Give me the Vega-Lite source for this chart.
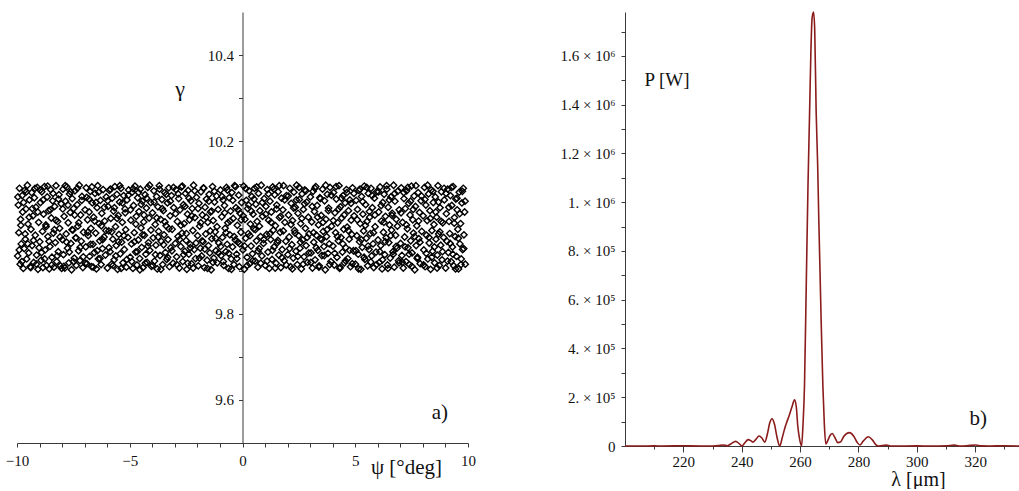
{
  "$schema": "https://vega.github.io/schema/vega-lite/v6.json",
  "background": "white",
  "padding": {"left": 5, "top": 8, "right": 0, "bottom": 0},
  "bounds": "flush",
  "spacing": 157,
  "config": {
    "view": {"stroke": null},
    "font": "Liberation Serif",
    "axis": {
      "grid": false,
      "domainColor": "#3a3a3a",
      "tickColor": "#3a3a3a",
      "labelColor": "#111111",
      "labelFont": "Liberation Serif",
      "labelFontSize": 15,
      "titleFont": "Liberation Serif",
      "titleFontWeight": "normal",
      "titleColor": "#111111",
      "labelOverlap": false,
      "labelFlush": false,
      "tickSize": 4
    }
  },
  "hconcat": [
    {
      "width": 451,
      "height": 431,
      "title": {"text": "a)", "orient": "top", "anchor": "end", "frame": "group", "offset": 0, "dx": -20, "dy": 422, "font": "Liberation Serif", "fontSize": 21, "fontWeight": "normal", "color": "#111111", "baseline": "middle", "align": "right"},
      "data": {"values": [
{"p":-9.97,"g":9.934},{"p":-9.94,"g":10.052},{"p":-9.92,"g":9.988},{"p":-9.89,"g":10.091},{"p":-9.86,"g":9.915},{"p":-9.84,"g":10.019},{"p":-9.81,"g":9.962},{"p":-9.77,"g":10.074},{"p":-9.75,"g":10.036},{"p":-9.72,"g":9.905},{"p":-9.68,"g":9.951},{"p":-9.66,"g":10.086},{"p":-9.63,"g":9.973},{"p":-9.6,"g":10.043},{"p":-9.57,"g":9.927},{"p":-9.54,"g":10.098},{"p":-9.51,"g":10.008},{"p":-9.48,"g":9.941},{"p":-9.45,"g":10.064},{"p":-9.42,"g":9.909},{"p":-9.38,"g":9.996},{"p":-9.35,"g":10.081},{"p":-9.33,"g":9.958},{"p":-9.29,"g":10.027},{"p":-9.26,"g":9.919},{"p":-9.23,"g":10.069},{"p":-9.19,"g":9.982},{"p":-9.16,"g":10.047},{"p":-9.13,"g":9.936},{"p":-9.1,"g":10.093},{"p":-9.07,"g":9.903},{"p":-9.04,"g":10.012},
{"p":-8.99,"g":9.967},{"p":-8.96,"g":10.058},{"p":-8.93,"g":9.924},{"p":-8.9,"g":10.083},{"p":-8.87,"g":9.991},{"p":-8.85,"g":9.907},{"p":-8.82,"g":10.031},{"p":-8.78,"g":10.095},{"p":-8.75,"g":9.948},{"p":-8.72,"g":10.006},{"p":-8.69,"g":9.912},{"p":-8.66,"g":10.071},{"p":-8.63,"g":9.979},{"p":-8.6,"g":10.039},{"p":-8.57,"g":9.904},{"p":-8.54,"g":9.956},{"p":-8.51,"g":10.088},{"p":-8.48,"g":10.022},{"p":-8.45,"g":9.931},{"p":-8.42,"g":10.062},{"p":-8.39,"g":9.987},{"p":-8.36,"g":9.908},{"p":-8.33,"g":10.049},{"p":-8.3,"g":9.965},{"p":-8.27,"g":10.097},{"p":-8.24,"g":9.921},{"p":-8.2,"g":10.014},{"p":-8.17,"g":9.944},{"p":-8.14,"g":10.076},{"p":-8.11,"g":9.998},{"p":-8.07,"g":9.911},{"p":-8.04,"g":10.055},
{"p":-7.99,"g":9.972},{"p":-7.96,"g":10.089},{"p":-7.94,"g":9.937},{"p":-7.91,"g":10.026},{"p":-7.88,"g":9.906},{"p":-7.85,"g":10.061},{"p":-7.82,"g":9.985},{"p":-7.79,"g":10.094},{"p":-7.76,"g":9.952},{"p":-7.73,"g":10.011},{"p":-7.7,"g":9.918},{"p":-7.67,"g":10.078},{"p":-7.64,"g":10.035},{"p":-7.61,"g":9.963},{"p":-7.58,"g":9.902},{"p":-7.55,"g":10.067},{"p":-7.52,"g":9.994},{"p":-7.49,"g":10.044},{"p":-7.46,"g":9.929},{"p":-7.43,"g":10.085},{"p":-7.4,"g":9.976},{"p":-7.37,"g":9.912},{"p":-7.33,"g":10.053},{"p":-7.3,"g":10.003},{"p":-7.27,"g":9.946},{"p":-7.24,"g":10.098},{"p":-7.21,"g":9.923},{"p":-7.18,"g":10.029},{"p":-7.15,"g":9.968},{"p":-7.12,"g":10.072},{"p":-7.08,"g":9.907},{"p":-7.05,"g":9.989},
{"p":-6.98,"g":10.041},{"p":-6.95,"g":9.955},{"p":-6.93,"g":10.092},{"p":-6.9,"g":9.916},{"p":-6.87,"g":10.018},{"p":-6.84,"g":9.981},{"p":-6.81,"g":10.066},{"p":-6.78,"g":9.933},{"p":-6.75,"g":10.084},{"p":-6.72,"g":9.998},{"p":-6.69,"g":9.909},{"p":-6.66,"g":10.057},{"p":-6.63,"g":9.961},{"p":-6.6,"g":10.024},{"p":-6.57,"g":9.942},{"p":-6.54,"g":10.079},{"p":-6.51,"g":9.987},{"p":-6.48,"g":9.904},{"p":-6.45,"g":10.046},{"p":-6.42,"g":10.097},{"p":-6.39,"g":9.927},{"p":-6.36,"g":10.009},{"p":-6.33,"g":9.969},{"p":-6.3,"g":10.063},{"p":-6.27,"g":9.914},{"p":-6.24,"g":10.033},{"p":-6.21,"g":9.951},{"p":-6.18,"g":10.088},{"p":-6.14,"g":9.978},{"p":-6.11,"g":10.015},{"p":-6.08,"g":9.936},{"p":-6.04,"g":10.071},
{"p":-5.99,"g":9.906},{"p":-5.96,"g":10.049},{"p":-5.93,"g":9.992},{"p":-5.9,"g":10.086},{"p":-5.87,"g":9.944},{"p":-5.84,"g":10.021},{"p":-5.81,"g":9.915},{"p":-5.78,"g":10.068},{"p":-5.75,"g":9.973},{"p":-5.72,"g":10.038},{"p":-5.69,"g":9.925},{"p":-5.66,"g":10.095},{"p":-5.63,"g":10.002},{"p":-5.6,"g":9.958},{"p":-5.57,"g":10.077},{"p":-5.54,"g":9.903},{"p":-5.51,"g":10.028},{"p":-5.48,"g":9.984},{"p":-5.45,"g":10.059},{"p":-5.42,"g":9.939},{"p":-5.39,"g":10.091},{"p":-5.36,"g":9.966},{"p":-5.33,"g":10.012},{"p":-5.3,"g":9.918},{"p":-5.27,"g":10.074},{"p":-5.24,"g":9.949},{"p":-5.21,"g":10.043},{"p":-5.18,"g":9.995},{"p":-5.15,"g":9.908},{"p":-5.12,"g":10.064},{"p":-5.08,"g":9.977},{"p":-5.05,"g":10.087},
{"p":-4.98,"g":9.931},{"p":-4.95,"g":10.017},{"p":-4.92,"g":9.962},{"p":-4.89,"g":10.082},{"p":-4.86,"g":9.905},{"p":-4.83,"g":10.051},{"p":-4.8,"g":9.988},{"p":-4.77,"g":10.096},{"p":-4.74,"g":9.943},{"p":-4.71,"g":10.026},{"p":-4.68,"g":9.913},{"p":-4.65,"g":10.069},{"p":-4.62,"g":9.971},{"p":-4.59,"g":10.037},{"p":-4.56,"g":9.928},{"p":-4.53,"g":10.089},{"p":-4.5,"g":9.999},{"p":-4.47,"g":9.954},{"p":-4.44,"g":10.061},{"p":-4.41,"g":9.907},{"p":-4.38,"g":10.013},{"p":-4.35,"g":9.982},{"p":-4.32,"g":10.076},{"p":-4.29,"g":9.938},{"p":-4.26,"g":10.045},{"p":-4.23,"g":9.919},{"p":-4.2,"g":10.093},{"p":-4.17,"g":9.965},{"p":-4.14,"g":10.022},{"p":-4.11,"g":9.947},{"p":-4.07,"g":10.058},{"p":-4.04,"g":9.91},
{"p":-3.99,"g":10.034},{"p":-3.96,"g":9.976},{"p":-3.93,"g":10.085},{"p":-3.9,"g":9.922},{"p":-3.87,"g":10.007},{"p":-3.84,"g":9.959},{"p":-3.81,"g":10.072},{"p":-3.78,"g":9.904},{"p":-3.75,"g":10.048},{"p":-3.72,"g":9.991},{"p":-3.69,"g":10.097},{"p":-3.66,"g":9.935},{"p":-3.63,"g":10.019},{"p":-3.6,"g":9.968},{"p":-3.57,"g":10.065},{"p":-3.54,"g":9.914},{"p":-3.51,"g":10.039},{"p":-3.48,"g":9.983},{"p":-3.45,"g":10.081},{"p":-3.42,"g":9.942},{"p":-3.39,"g":10.004},{"p":-3.36,"g":9.926},{"p":-3.33,"g":10.057},{"p":-3.3,"g":9.972},{"p":-3.27,"g":10.092},{"p":-3.24,"g":9.909},{"p":-3.21,"g":10.027},{"p":-3.18,"g":9.953},{"p":-3.15,"g":10.074},{"p":-3.12,"g":9.996},{"p":-3.08,"g":9.917},{"p":-3.05,"g":10.046},
{"p":-2.98,"g":9.963},{"p":-2.95,"g":10.088},{"p":-2.92,"g":9.932},{"p":-2.89,"g":10.014},{"p":-2.86,"g":9.979},{"p":-2.83,"g":10.067},{"p":-2.8,"g":9.906},{"p":-2.77,"g":10.041},{"p":-2.74,"g":9.956},{"p":-2.71,"g":10.094},{"p":-2.68,"g":9.987},{"p":-2.65,"g":9.921},{"p":-2.62,"g":10.053},{"p":-2.59,"g":10.009},{"p":-2.56,"g":9.945},{"p":-2.53,"g":10.079},{"p":-2.5,"g":9.97},{"p":-2.47,"g":9.903},{"p":-2.44,"g":10.031},{"p":-2.41,"g":10.086},{"p":-2.38,"g":9.938},{"p":-2.35,"g":10.018},{"p":-2.32,"g":9.961},{"p":-2.29,"g":10.062},{"p":-2.26,"g":9.916},{"p":-2.23,"g":10.044},{"p":-2.2,"g":9.993},{"p":-2.17,"g":10.098},{"p":-2.14,"g":9.949},{"p":-2.11,"g":10.023},{"p":-2.08,"g":9.928},{"p":-2.04,"g":10.07},
{"p":-1.99,"g":9.981},{"p":-1.96,"g":9.911},{"p":-1.93,"g":10.056},{"p":-1.9,"g":10.003},{"p":-1.87,"g":9.952},{"p":-1.84,"g":10.083},{"p":-1.81,"g":9.934},{"p":-1.78,"g":10.029},{"p":-1.75,"g":9.967},{"p":-1.72,"g":10.091},{"p":-1.69,"g":9.907},{"p":-1.66,"g":10.047},{"p":-1.63,"g":9.985},{"p":-1.6,"g":10.066},{"p":-1.57,"g":9.924},{"p":-1.54,"g":10.012},{"p":-1.51,"g":9.958},{"p":-1.48,"g":10.077},{"p":-1.45,"g":9.941},{"p":-1.42,"g":10.036},{"p":-1.39,"g":9.902},{"p":-1.36,"g":9.974},{"p":-1.33,"g":10.095},{"p":-1.3,"g":10.016},{"p":-1.27,"g":9.929},{"p":-1.24,"g":10.059},{"p":-1.21,"g":9.99},{"p":-1.18,"g":9.946},{"p":-1.15,"g":10.073},{"p":-1.12,"g":9.918},{"p":-1.08,"g":10.042},{"p":-1.05,"g":9.964},
{"p":-0.98,"g":10.087},{"p":-0.95,"g":9.935},{"p":-0.92,"g":10.025},{"p":-0.89,"g":9.977},{"p":-0.86,"g":10.064},{"p":-0.83,"g":9.912},{"p":-0.8,"g":10.051},{"p":-0.77,"g":9.998},{"p":-0.74,"g":9.944},{"p":-0.71,"g":10.093},{"p":-0.68,"g":9.961},{"p":-0.65,"g":10.011},{"p":-0.62,"g":9.905},{"p":-0.59,"g":10.069},{"p":-0.56,"g":9.983},{"p":-0.53,"g":10.038},{"p":-0.5,"g":9.927},{"p":-0.47,"g":10.081},{"p":-0.44,"g":9.955},{"p":-0.41,"g":10.021},{"p":-0.38,"g":9.914},{"p":-0.35,"g":10.097},{"p":-0.32,"g":9.971},{"p":-0.29,"g":10.046},{"p":-0.26,"g":9.938},{"p":-0.23,"g":10.005},{"p":-0.2,"g":9.966},{"p":-0.17,"g":10.075},{"p":-0.14,"g":9.909},{"p":-0.11,"g":10.033},{"p":-0.07,"g":9.989},{"p":-0.04,"g":10.058},
{"p":0.02,"g":9.948},{"p":0.05,"g":10.096},{"p":0.08,"g":9.903},{"p":0.11,"g":10.019},{"p":0.14,"g":9.975},{"p":0.17,"g":10.063},{"p":0.2,"g":9.931},{"p":0.23,"g":10.044},{"p":0.26,"g":9.986},{"p":0.29,"g":10.085},{"p":0.32,"g":9.916},{"p":0.35,"g":10.008},{"p":0.38,"g":9.957},{"p":0.41,"g":10.072},{"p":0.44,"g":9.939},{"p":0.47,"g":10.031},{"p":0.5,"g":9.997},{"p":0.53,"g":10.091},{"p":0.56,"g":9.922},{"p":0.59,"g":10.054},{"p":0.62,"g":9.969},{"p":0.65,"g":10.014},{"p":0.68,"g":9.908},{"p":0.71,"g":10.079},{"p":0.74,"g":9.951},{"p":0.77,"g":10.039},{"p":0.8,"g":9.979},{"p":0.83,"g":10.098},{"p":0.86,"g":9.934},{"p":0.89,"g":10.026},{"p":0.93,"g":9.963},{"p":0.96,"g":10.067},
{"p":1.01,"g":9.912},{"p":1.04,"g":10.049},{"p":1.07,"g":9.984},{"p":1.1,"g":10.088},{"p":1.13,"g":9.943},{"p":1.16,"g":10.017},{"p":1.19,"g":9.905},{"p":1.22,"g":10.061},{"p":1.25,"g":9.972},{"p":1.28,"g":10.036},{"p":1.31,"g":9.926},{"p":1.34,"g":10.094},{"p":1.37,"g":9.994},{"p":1.4,"g":9.955},{"p":1.43,"g":10.076},{"p":1.46,"g":10.004},{"p":1.49,"g":9.917},{"p":1.52,"g":10.052},{"p":1.55,"g":9.965},{"p":1.58,"g":10.083},{"p":1.61,"g":9.936},{"p":1.64,"g":10.023},{"p":1.67,"g":9.989},{"p":1.7,"g":9.907},{"p":1.73,"g":10.068},{"p":1.76,"g":9.949},{"p":1.79,"g":10.041},{"p":1.82,"g":10.097},{"p":1.85,"g":9.923},{"p":1.88,"g":10.012},{"p":1.92,"g":9.968},{"p":1.95,"g":10.074},
{"p":2.01,"g":9.937},{"p":2.04,"g":10.029},{"p":2.07,"g":9.978},{"p":2.1,"g":10.091},{"p":2.13,"g":9.909},{"p":2.16,"g":10.056},{"p":2.19,"g":9.96},{"p":2.22,"g":10.016},{"p":2.25,"g":9.929},{"p":2.28,"g":10.082},{"p":2.31,"g":9.993},{"p":2.34,"g":10.047},{"p":2.37,"g":9.945},{"p":2.4,"g":10.098},{"p":2.43,"g":9.914},{"p":2.46,"g":10.033},{"p":2.49,"g":9.981},{"p":2.52,"g":10.065},{"p":2.55,"g":9.952},{"p":2.58,"g":10.009},{"p":2.61,"g":9.904},{"p":2.64,"g":10.078},{"p":2.67,"g":9.971},{"p":2.7,"g":10.042},{"p":2.73,"g":9.932},{"p":2.76,"g":10.087},{"p":2.79,"g":9.998},{"p":2.82,"g":9.958},{"p":2.85,"g":10.059},{"p":2.88,"g":9.919},{"p":2.92,"g":10.024},{"p":2.95,"g":9.985},
{"p":3.01,"g":10.071},{"p":3.04,"g":9.941},{"p":3.07,"g":10.013},{"p":3.1,"g":9.906},{"p":3.13,"g":10.084},{"p":3.16,"g":9.966},{"p":3.19,"g":10.037},{"p":3.22,"g":9.925},{"p":3.25,"g":10.095},{"p":3.28,"g":9.982},{"p":3.31,"g":10.051},{"p":3.34,"g":9.947},{"p":3.37,"g":10.006},{"p":3.4,"g":9.911},{"p":3.43,"g":10.069},{"p":3.46,"g":9.974},{"p":3.49,"g":10.028},{"p":3.52,"g":9.935},{"p":3.55,"g":10.089},{"p":3.58,"g":9.991},{"p":3.61,"g":9.956},{"p":3.64,"g":10.062},{"p":3.67,"g":9.902},{"p":3.7,"g":10.019},{"p":3.73,"g":9.979},{"p":3.76,"g":10.077},{"p":3.79,"g":9.94},{"p":3.82,"g":10.045},{"p":3.85,"g":9.962},{"p":3.88,"g":10.093},{"p":3.92,"g":9.921},{"p":3.95,"g":10.003},
{"p":4.01,"g":9.957},{"p":4.04,"g":10.081},{"p":4.07,"g":9.913},{"p":4.1,"g":10.034},{"p":4.13,"g":9.988},{"p":4.16,"g":10.066},{"p":4.19,"g":9.931},{"p":4.22,"g":10.011},{"p":4.25,"g":9.969},{"p":4.28,"g":10.097},{"p":4.31,"g":9.905},{"p":4.34,"g":10.048},{"p":4.37,"g":9.977},{"p":4.4,"g":10.022},{"p":4.43,"g":9.943},{"p":4.46,"g":10.074},{"p":4.49,"g":9.996},{"p":4.52,"g":9.918},{"p":4.55,"g":10.057},{"p":4.58,"g":9.953},{"p":4.61,"g":10.088},{"p":4.64,"g":10.001},{"p":4.67,"g":9.928},{"p":4.7,"g":10.039},{"p":4.73,"g":9.973},{"p":4.76,"g":10.064},{"p":4.79,"g":9.909},{"p":4.82,"g":10.017},{"p":4.85,"g":9.984},{"p":4.88,"g":10.092},{"p":4.92,"g":9.946},{"p":4.95,"g":10.027},
{"p":5.01,"g":9.915},{"p":5.04,"g":10.063},{"p":5.07,"g":9.981},{"p":5.1,"g":10.042},{"p":5.13,"g":9.938},{"p":5.16,"g":10.086},{"p":5.19,"g":9.967},{"p":5.22,"g":10.009},{"p":5.25,"g":9.903},{"p":5.28,"g":10.072},{"p":5.31,"g":9.954},{"p":5.34,"g":10.031},{"p":5.37,"g":9.992},{"p":5.4,"g":10.096},{"p":5.43,"g":9.926},{"p":5.46,"g":10.053},{"p":5.49,"g":9.975},{"p":5.52,"g":10.014},{"p":5.55,"g":9.911},{"p":5.58,"g":10.079},{"p":5.61,"g":9.949},{"p":5.64,"g":10.024},{"p":5.67,"g":9.986},{"p":5.7,"g":10.091},{"p":5.73,"g":9.934},{"p":5.76,"g":10.046},{"p":5.79,"g":9.962},{"p":5.82,"g":9.907},{"p":5.85,"g":10.068},{"p":5.88,"g":10.002},{"p":5.92,"g":9.943},{"p":5.95,"g":10.083},
{"p":6.01,"g":9.971},{"p":6.04,"g":10.036},{"p":6.07,"g":9.919},{"p":6.1,"g":10.094},{"p":6.13,"g":9.958},{"p":6.16,"g":10.015},{"p":6.19,"g":9.904},{"p":6.22,"g":10.058},{"p":6.25,"g":9.989},{"p":6.28,"g":10.077},{"p":6.31,"g":9.937},{"p":6.34,"g":10.026},{"p":6.37,"g":9.976},{"p":6.4,"g":10.089},{"p":6.43,"g":9.913},{"p":6.46,"g":10.047},{"p":6.49,"g":9.965},{"p":6.52,"g":10.006},{"p":6.55,"g":9.929},{"p":6.58,"g":10.071},{"p":6.61,"g":9.994},{"p":6.64,"g":10.033},{"p":6.67,"g":9.944},{"p":6.7,"g":10.098},{"p":6.73,"g":9.908},{"p":6.76,"g":10.061},{"p":6.79,"g":9.982},{"p":6.82,"g":10.019},{"p":6.85,"g":9.952},{"p":6.88,"g":10.084},{"p":6.92,"g":9.923},{"p":6.95,"g":10.041},
{"p":7.01,"g":9.963},{"p":7.04,"g":10.092},{"p":7.07,"g":9.935},{"p":7.1,"g":10.012},{"p":7.13,"g":9.906},{"p":7.16,"g":10.067},{"p":7.19,"g":9.978},{"p":7.22,"g":10.044},{"p":7.25,"g":9.921},{"p":7.28,"g":10.085},{"p":7.31,"g":9.997},{"p":7.34,"g":9.953},{"p":7.37,"g":10.056},{"p":7.4,"g":9.914},{"p":7.43,"g":10.029},{"p":7.46,"g":9.969},{"p":7.49,"g":10.096},{"p":7.52,"g":9.941},{"p":7.55,"g":10.018},{"p":7.58,"g":9.987},{"p":7.61,"g":10.073},{"p":7.64,"g":9.902},{"p":7.67,"g":10.049},{"p":7.7,"g":9.958},{"p":7.73,"g":10.004},{"p":7.76,"g":9.931},{"p":7.79,"g":10.081},{"p":7.82,"g":9.974},{"p":7.85,"g":10.035},{"p":7.88,"g":9.916},{"p":7.92,"g":10.062},{"p":7.95,"g":9.991},
{"p":8.01,"g":10.027},{"p":8.04,"g":9.948},{"p":8.07,"g":10.093},{"p":8.1,"g":9.909},{"p":8.13,"g":10.052},{"p":8.16,"g":9.982},{"p":8.19,"g":10.016},{"p":8.22,"g":9.927},{"p":8.25,"g":10.078},{"p":8.28,"g":9.964},{"p":8.31,"g":10.039},{"p":8.34,"g":9.903},{"p":8.37,"g":10.087},{"p":8.4,"g":9.993},{"p":8.43,"g":9.945},{"p":8.46,"g":10.058},{"p":8.49,"g":10.007},{"p":8.52,"g":9.918},{"p":8.55,"g":10.071},{"p":8.58,"g":9.973},{"p":8.61,"g":10.024},{"p":8.64,"g":9.936},{"p":8.67,"g":10.097},{"p":8.7,"g":9.985},{"p":8.73,"g":9.912},{"p":8.76,"g":10.046},{"p":8.79,"g":9.959},{"p":8.82,"g":10.083},{"p":8.85,"g":9.925},{"p":8.88,"g":10.011},{"p":8.92,"g":9.977},{"p":8.95,"g":10.064},
{"p":9.01,"g":9.906},{"p":9.04,"g":10.032},{"p":9.07,"g":9.968},{"p":9.1,"g":10.089},{"p":9.13,"g":9.942},{"p":9.16,"g":10.014},{"p":9.19,"g":9.986},{"p":9.22,"g":10.074},{"p":9.25,"g":9.921},{"p":9.28,"g":10.051},{"p":9.31,"g":9.955},{"p":9.34,"g":10.095},{"p":9.37,"g":9.911},{"p":9.4,"g":10.023},{"p":9.43,"g":9.979},{"p":9.46,"g":10.066},{"p":9.49,"g":9.933},{"p":9.52,"g":10.041},{"p":9.55,"g":9.996},{"p":9.58,"g":9.904},{"p":9.61,"g":10.082},{"p":9.64,"g":9.962},{"p":9.67,"g":10.009},{"p":9.7,"g":9.927},{"p":9.73,"g":10.057},{"p":9.76,"g":9.949},{"p":9.79,"g":10.091},{"p":9.82,"g":9.983},{"p":9.85,"g":10.036},{"p":9.88,"g":9.915},
{"p":-9.96,"g":10.071},{"p":-9.9,"g":9.948},{"p":-9.83,"g":10.005},{"p":-9.78,"g":9.921},{"p":-9.71,"g":10.058},{"p":-9.64,"g":9.985},{"p":-9.58,"g":10.083},{"p":-9.52,"g":9.962},{"p":-9.46,"g":10.024},{"p":-9.39,"g":9.907},{"p":-9.32,"g":10.044},{"p":-9.27,"g":9.97},{"p":-9.2,"g":10.091},{"p":-9.14,"g":9.915},{"p":-9.08,"g":10.036},{"p":-9.02,"g":9.953},
{"p":-8.97,"g":10.087},{"p":-8.91,"g":9.942},{"p":-8.84,"g":10.064},{"p":-8.77,"g":9.927},{"p":-8.71,"g":10.002},{"p":-8.64,"g":10.096},{"p":-8.58,"g":9.968},{"p":-8.52,"g":10.041},{"p":-8.46,"g":9.913},{"p":-8.4,"g":10.079},{"p":-8.34,"g":9.995},{"p":-8.28,"g":10.017},{"p":-8.22,"g":9.934},{"p":-8.16,"g":10.066},{"p":-8.09,"g":9.978},{"p":-8.02,"g":9.905},
{"p":-7.97,"g":10.043},{"p":-7.92,"g":9.91},{"p":-7.86,"g":10.097},{"p":-7.8,"g":9.966},{"p":-7.74,"g":10.052},{"p":-7.68,"g":9.943},{"p":-7.62,"g":10.083},{"p":-7.56,"g":9.995},{"p":-7.5,"g":9.921},{"p":-7.44,"g":10.029},{"p":-7.38,"g":9.976},{"p":-7.32,"g":10.091},{"p":-7.26,"g":10.011},{"p":-7.2,"g":9.954},{"p":-7.13,"g":10.063},{"p":-7.06,"g":9.932},
{"p":-6.97,"g":9.917},{"p":-6.91,"g":10.07},{"p":-6.86,"g":9.989},{"p":-6.8,"g":10.036},{"p":-6.74,"g":9.961},{"p":-6.68,"g":10.094},{"p":-6.62,"g":9.908},{"p":-6.56,"g":10.015},{"p":-6.5,"g":10.058},{"p":-6.44,"g":9.946},{"p":-6.38,"g":10.082},{"p":-6.32,"g":9.928},{"p":-6.26,"g":10.004},{"p":-6.2,"g":9.972},{"p":-6.13,"g":10.047},{"p":-6.06,"g":9.993},
{"p":-5.98,"g":10.062},{"p":-5.92,"g":9.953},{"p":-5.86,"g":10.089},{"p":-5.8,"g":9.99},{"p":-5.74,"g":9.912},{"p":-5.68,"g":10.046},{"p":-5.62,"g":9.934},{"p":-5.56,"g":10.021},{"p":-5.5,"g":9.967},{"p":-5.44,"g":10.097},{"p":-5.38,"g":9.905},{"p":-5.32,"g":10.057},{"p":-5.26,"g":9.981},{"p":-5.2,"g":10.034},{"p":-5.13,"g":9.926},{"p":-5.06,"g":10.075},
{"p":-4.97,"g":10.041},{"p":-4.91,"g":9.921},{"p":-4.85,"g":10.09},{"p":-4.79,"g":9.967},{"p":-4.73,"g":10.008},{"p":-4.67,"g":9.944},{"p":-4.61,"g":10.081},{"p":-4.55,"g":9.902},{"p":-4.49,"g":10.054},{"p":-4.43,"g":9.983},{"p":-4.37,"g":10.029},{"p":-4.31,"g":9.917},{"p":-4.25,"g":10.068},{"p":-4.19,"g":9.957},{"p":-4.12,"g":10.098},{"p":-4.06,"g":9.994},
{"p":-3.98,"g":9.912},{"p":-3.92,"g":10.059},{"p":-3.86,"g":9.937},{"p":-3.8,"g":10.022},{"p":-3.74,"g":9.978},{"p":-3.68,"g":10.089},{"p":-3.62,"g":9.903},{"p":-3.56,"g":10.044},{"p":-3.5,"g":9.96},{"p":-3.44,"g":10.013},{"p":-3.38,"g":10.077},{"p":-3.32,"g":9.931},{"p":-3.26,"g":9.997},{"p":-3.2,"g":10.061},{"p":-3.13,"g":9.946},{"p":-3.06,"g":10.093},
{"p":-2.97,"g":10.032},{"p":-2.91,"g":9.914},{"p":-2.85,"g":10.078},{"p":-2.79,"g":9.972},{"p":-2.73,"g":10.005},{"p":-2.67,"g":10.096},{"p":-2.61,"g":9.937},{"p":-2.55,"g":10.049},{"p":-2.49,"g":9.986},{"p":-2.43,"g":9.917},{"p":-2.37,"g":10.068},{"p":-2.31,"g":9.953},{"p":-2.25,"g":10.027},{"p":-2.19,"g":9.906},{"p":-2.12,"g":10.085},{"p":-2.06,"g":9.964},
{"p":-1.97,"g":10.044},{"p":-1.91,"g":9.929},{"p":-1.85,"g":10.011},{"p":-1.79,"g":9.969},{"p":-1.73,"g":10.092},{"p":-1.67,"g":9.95},{"p":-1.61,"g":10.024},{"p":-1.55,"g":9.905},{"p":-1.49,"g":10.061},{"p":-1.43,"g":9.992},{"p":-1.37,"g":10.038},{"p":-1.31,"g":9.919},{"p":-1.25,"g":10.084},{"p":-1.19,"g":9.975},{"p":-1.13,"g":10.002},{"p":-1.06,"g":9.941},
{"p":-0.97,"g":9.956},{"p":-0.91,"g":10.072},{"p":-0.85,"g":9.921},{"p":-0.79,"g":10.034},{"p":-0.73,"g":9.988},{"p":-0.67,"g":10.087},{"p":-0.61,"g":9.94},{"p":-0.55,"g":10.015},{"p":-0.49,"g":9.903},{"p":-0.43,"g":10.063},{"p":-0.37,"g":9.979},{"p":-0.31,"g":10.095},{"p":-0.25,"g":9.928},{"p":-0.19,"g":10.041},{"p":-0.12,"g":9.962},{"p":-0.06,"g":10.018},
{"p":0.03,"g":10.027},{"p":0.09,"g":9.957},{"p":0.15,"g":10.09},{"p":0.21,"g":9.912},{"p":0.27,"g":10.052},{"p":0.33,"g":9.981},{"p":0.39,"g":10.038},{"p":0.45,"g":9.923},{"p":0.51,"g":10.066},{"p":0.57,"g":9.995},{"p":0.63,"g":10.094},{"p":0.69,"g":9.945},{"p":0.75,"g":10.003},{"p":0.81,"g":9.917},{"p":0.88,"g":10.058},{"p":0.94,"g":9.972},
{"p":1.03,"g":10.031},{"p":1.09,"g":9.922},{"p":1.15,"g":10.078},{"p":1.21,"g":9.985},{"p":1.27,"g":10.012},{"p":1.33,"g":9.947},{"p":1.39,"g":10.089},{"p":1.45,"g":9.906},{"p":1.51,"g":10.043},{"p":1.57,"g":9.97},{"p":1.63,"g":10.097},{"p":1.69,"g":10.026},{"p":1.75,"g":9.93},{"p":1.81,"g":9.992},{"p":1.87,"g":10.064},{"p":1.94,"g":9.913},
{"p":2.03,"g":10.073},{"p":2.09,"g":9.951},{"p":2.15,"g":10.007},{"p":2.21,"g":9.904},{"p":2.27,"g":10.045},{"p":2.33,"g":9.987},{"p":2.39,"g":10.064},{"p":2.45,"g":9.933},{"p":2.51,"g":10.093},{"p":2.57,"g":9.966},{"p":2.63,"g":10.021},{"p":2.69,"g":9.915},{"p":2.75,"g":10.055},{"p":2.81,"g":10.085},{"p":2.87,"g":9.977},{"p":2.94,"g":9.941},
{"p":3.03,"g":9.919},{"p":3.09,"g":10.049},{"p":3.15,"g":9.988},{"p":3.21,"g":10.091},{"p":3.27,"g":9.953},{"p":3.33,"g":10.024},{"p":3.39,"g":9.908},{"p":3.45,"g":10.067},{"p":3.51,"g":9.972},{"p":3.57,"g":10.012},{"p":3.63,"g":9.935},{"p":3.69,"g":10.098},{"p":3.75,"g":9.995},{"p":3.81,"g":10.039},{"p":3.87,"g":9.914},{"p":3.94,"g":10.075},
{"p":4.03,"g":10.016},{"p":4.09,"g":9.94},{"p":4.15,"g":10.095},{"p":4.21,"g":9.979},{"p":4.27,"g":10.043},{"p":4.33,"g":9.908},{"p":4.39,"g":10.068},{"p":4.45,"g":9.962},{"p":4.51,"g":10.029},{"p":4.57,"g":9.923},{"p":4.63,"g":10.081},{"p":4.69,"g":9.993},{"p":4.75,"g":9.947},{"p":4.81,"g":10.056},{"p":4.87,"g":9.916},{"p":4.94,"g":10.079},
{"p":5.03,"g":9.946},{"p":5.09,"g":10.018},{"p":5.15,"g":9.904},{"p":5.21,"g":10.089},{"p":5.27,"g":9.972},{"p":5.33,"g":10.06},{"p":5.39,"g":9.931},{"p":5.45,"g":10.005},{"p":5.51,"g":10.093},{"p":5.57,"g":9.957},{"p":5.63,"g":10.037},{"p":5.69,"g":9.92},{"p":5.75,"g":10.074},{"p":5.81,"g":9.988},{"p":5.87,"g":10.029},{"p":5.94,"g":9.914},
{"p":6.03,"g":10.083},{"p":6.09,"g":9.944},{"p":6.15,"g":10.051},{"p":6.21,"g":9.925},{"p":6.27,"g":10.012},{"p":6.33,"g":9.967},{"p":6.39,"g":10.097},{"p":6.45,"g":9.905},{"p":6.51,"g":10.064},{"p":6.57,"g":9.981},{"p":6.63,"g":10.028},{"p":6.69,"g":9.938},{"p":6.75,"g":10.079},{"p":6.81,"g":9.956},{"p":6.87,"g":10.003},{"p":6.94,"g":9.918},
{"p":7.03,"g":10.034},{"p":7.09,"g":9.919},{"p":7.15,"g":10.081},{"p":7.21,"g":9.955},{"p":7.27,"g":10.006},{"p":7.33,"g":10.093},{"p":7.39,"g":9.938},{"p":7.45,"g":10.061},{"p":7.51,"g":9.91},{"p":7.57,"g":10.042},{"p":7.63,"g":9.979},{"p":7.69,"g":10.097},{"p":7.75,"g":9.928},{"p":7.81,"g":10.015},{"p":7.87,"g":9.966},{"p":7.94,"g":10.073},
{"p":8.03,"g":9.913},{"p":8.09,"g":10.065},{"p":8.15,"g":9.94},{"p":8.21,"g":10.098},{"p":8.27,"g":9.977},{"p":8.33,"g":10.021},{"p":8.39,"g":9.931},{"p":8.45,"g":10.084},{"p":8.51,"g":9.955},{"p":8.57,"g":10.036},{"p":8.63,"g":9.906},{"p":8.69,"g":10.059},{"p":8.75,"g":9.99},{"p":8.81,"g":10.014},{"p":8.87,"g":9.944},{"p":8.94,"g":10.091},
{"p":9.03,"g":10.079},{"p":9.09,"g":9.922},{"p":9.15,"g":10.047},{"p":9.21,"g":9.963},{"p":9.27,"g":10.093},{"p":9.33,"g":9.938},{"p":9.39,"g":10.01},{"p":9.45,"g":9.904},{"p":9.51,"g":10.068},{"p":9.57,"g":9.975},{"p":9.63,"g":10.032},{"p":9.69,"g":9.914},{"p":9.75,"g":10.084},{"p":9.81,"g":9.951},{"p":9.87,"g":10.061}
      ]},
      "mark": {"type": "point", "shape": "diamond", "filled": false, "size": 40, "strokeWidth": 1.4, "color": "#000000", "opacity": 1},
      "encoding": {
        "x": {
          "field": "p", "type": "quantitative",
          "scale": {"domain": [-10, 10], "nice": false, "zero": false},
          "axis": {
            "values": [-10, -9, -8, -7, -6, -5, -4, -3, -2, -1, 0, 1, 2, 3, 4, 5, 6, 7, 8, 9, 10],
            "labelExpr": "datum.value % 5 === 0 ? datum.label : ''",
            "labelOverlap": false,
            "labelFlush": false,
            "labelPadding": 6,
            "title": "ψ [°deg]",
            "titleFontSize": 21,
            "titleX": 389,
            "titleY": 30,
            "titleAlign": "center",
            "titleBaseline": "alphabetic"
          }
        },
        "y": {
          "field": "g", "type": "quantitative",
          "scale": {"domain": [9.5, 10.5], "nice": false, "zero": false},
          "axis": {
            "offset": -225.5,
            "values": [9.6, 9.7, 9.8, 9.9, 10, 10.1, 10.2, 10.3, 10.4],
            "format": ".1f",
            "labelExpr": "indexof(['9.6', '9.8', '10.2', '10.4'], datum.label) >= 0 ? datum.label : ''",
            "labelOverlap": false,
            "labelPadding": 5,
            "title": "γ",
            "titleAngle": 0,
            "titleFontSize": 22,
            "titleX": -63,
            "titleY": 83,
            "titleAlign": "center",
            "titleBaseline": "alphabetic"
          }
        }
      }
    },
    {
      "width": 394,
      "height": 434,
      "title": {"text": "b)", "orient": "top", "anchor": "end", "frame": "group", "offset": 0, "dx": -32, "dy": 431, "font": "Liberation Serif", "fontSize": 21, "fontWeight": "normal", "color": "#111111", "baseline": "middle", "align": "right"},
      "data": {"values": [
{"lam":200,"P":0},{"lam":205,"P":0},{"lam":210,"P":500},{"lam":213,"P":0},{"lam":218,"P":800},{"lam":220,"P":1200},{"lam":222,"P":500},{"lam":226,"P":0},{"lam":230,"P":300},{"lam":232,"P":1500},{"lam":233.6,"P":4000},{"lam":235,"P":1000},{"lam":236.2,"P":8000},{"lam":237.9,"P":19000},{"lam":239.2,"P":9000},{"lam":240.1,"P":0},{"lam":241,"P":12000},{"lam":242.2,"P":26000},{"lam":243.1,"P":22000},{"lam":243.9,"P":16000},{"lam":244.9,"P":28000},{"lam":245.9,"P":41000},{"lam":246.9,"P":33000},{"lam":247.9,"P":16000},{"lam":248.8,"P":50000},{"lam":249.6,"P":95000},{"lam":250.4,"P":112000},{"lam":251.2,"P":90000},{"lam":252.1,"P":35000},{"lam":253,"P":0},{"lam":253.9,"P":35000},{"lam":254.7,"P":71000},{"lam":255.5,"P":100000},{"lam":256.2,"P":123000},{"lam":257.2,"P":160000},{"lam":258.1,"P":189000},{"lam":258.7,"P":160000},{"lam":259.2,"P":82000},{"lam":259.8,"P":30000},{"lam":260.5,"P":0},{"lam":261,"P":90000},{"lam":261.5,"P":246000},{"lam":262.1,"P":656000},{"lam":262.7,"P":1067000},{"lam":263.2,"P":1340000},{"lam":263.7,"P":1620000},{"lam":264.1,"P":1755000},{"lam":264.6,"P":1780000},{"lam":265,"P":1710000},{"lam":265.5,"P":1370000},{"lam":266,"P":1160000},{"lam":266.4,"P":930000},{"lam":267.2,"P":520000},{"lam":267.8,"P":246000},{"lam":268.3,"P":90000},{"lam":268.8,"P":8000},{"lam":269.4,"P":20000},{"lam":270.2,"P":42000},{"lam":271,"P":51000},{"lam":271.9,"P":35000},{"lam":272.9,"P":14000},{"lam":273.8,"P":16000},{"lam":275,"P":40000},{"lam":276.9,"P":55000},{"lam":278.5,"P":38000},{"lam":279.6,"P":14000},{"lam":280.5,"P":4000},{"lam":281.6,"P":20000},{"lam":283.4,"P":38000},{"lam":284.8,"P":24000},{"lam":286,"P":5000},{"lam":287,"P":0},{"lam":289.5,"P":3500},{"lam":291,"P":0},{"lam":300,"P":500},{"lam":305,"P":0},{"lam":310,"P":800},{"lam":312.8,"P":3500},{"lam":314.5,"P":0},{"lam":317,"P":1000},{"lam":320.2,"P":4000},{"lam":322,"P":500},{"lam":325,"P":0},{"lam":330,"P":1000},{"lam":335,"P":0}
      ]},
      "mark": {"type": "line", "color": "#8b1c1c", "strokeWidth": 1.6, "interpolate": "monotone"},
      "encoding": {
        "x": {
          "field": "lam", "type": "quantitative",
          "scale": {"domain": [200, 335], "nice": false, "zero": false},
          "axis": {
            "values": [210, 220, 230, 240, 250, 260, 270, 280, 290, 300, 310, 320, 330],
            "labelExpr": "datum.value % 20 === 0 ? datum.label : ''",
            "labelOverlap": false,
            "labelFlush": false,
            "tickSize": {"condition": {"test": "datum.value % 20 === 0", "value": 6}, "value": 3},
            "labelPadding": 2,
            "title": "λ [μm]",
            "titleFontSize": 20,
            "titleX": 293,
            "titleY": 39,
            "titleAlign": "center",
            "titleBaseline": "alphabetic"
          }
        },
        "y": {
          "field": "P", "type": "quantitative",
          "scale": {"domain": [0, 1780000], "nice": false},
          "axis": {
            "values": [0, 100000, 200000, 300000, 400000, 500000, 600000, 700000, 800000, 900000, 1000000, 1100000, 1200000, 1300000, 1400000, 1500000, 1600000, 1700000],
            "labelExpr": "datum.value === 0 ? '0' : (datum.value % 200000 !== 0 ? '' : (datum.value < 1000000 ? (datum.value / 100000) + '. × 10⁵' : (datum.value === 1000000 ? '1. × 10⁶' : format(datum.value / 1000000, '.1f') + ' × 10⁶')))",
            "labelOverlap": false,
            "labelPadding": 6,
            "title": "P [W]",
            "titleAngle": 0,
            "titleFontSize": 19,
            "titleX": 41.5,
            "titleY": 73,
            "titleAlign": "center",
            "titleBaseline": "alphabetic"
          }
        }
      }
    }
  ]
}
